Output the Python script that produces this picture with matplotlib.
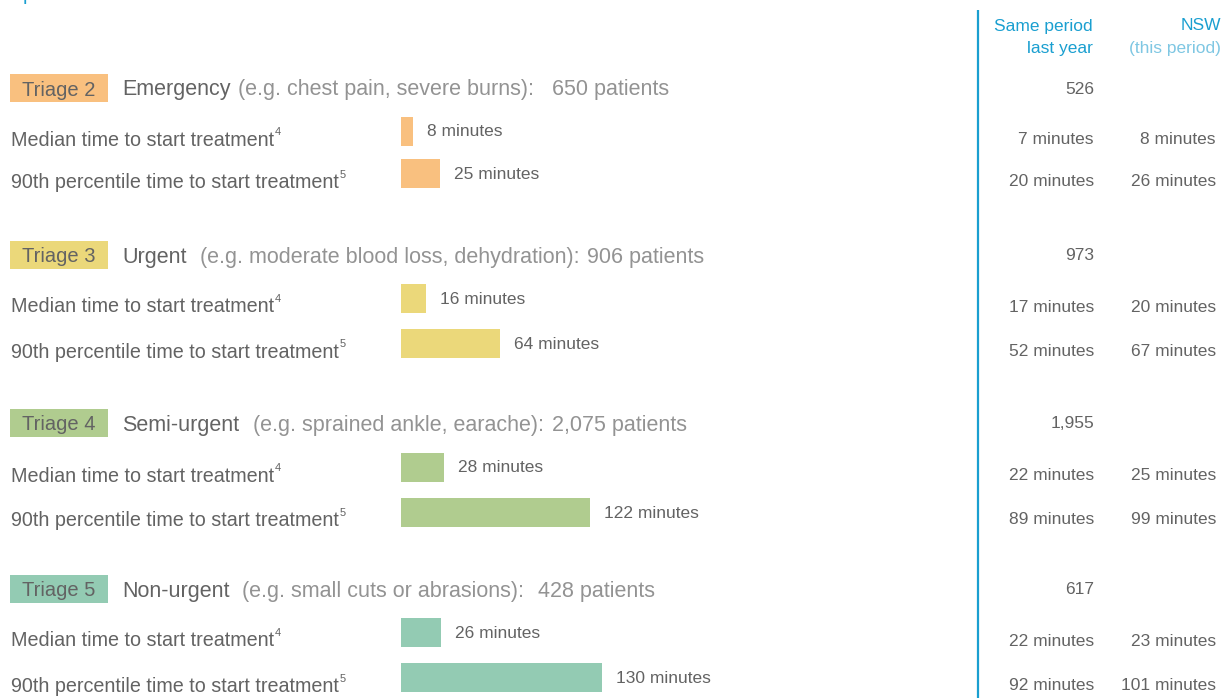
import matplotlib
matplotlib.use("Agg")
import matplotlib.pyplot as plt
from matplotlib.patches import Rectangle

# ---- data ----
triage_labels = ["Triage 2", "Triage 3", "Triage 4", "Triage 5"]
triage_names = ["Emergency", "Urgent", "Semi-urgent", "Non-urgent"]
triage_desc = ["(e.g. chest pain, severe burns):", "(e.g. moderate blood loss, dehydration):",
               "(e.g. sprained ankle, earache):", "(e.g. small cuts or abrasions):"]
patients = ["650 patients", "906 patients", "2,075 patients", "428 patients"]
patients_last_year = ["526", "973", "1,955", "617"]
median_minutes = [8, 16, 28, 26]
p90_minutes = [25, 64, 122, 130]
median_last_year = [7, 17, 22, 22]
p90_last_year = [20, 52, 89, 92]
median_nsw = [8, 20, 25, 23]
p90_nsw = [26, 67, 99, 101]
colors = ["#f9c07f", "#ebd87a", "#b0cc8f", "#93cbb3"]

W, H = 1224, 698
FONT = "Liberation Sans"
DARK = "#636363"
LIGHT = "#939393"
BLUE = "#1a9fd0"

# layout rows (pixel positions from top)
header_y = [90, 257, 425, 591]
med_text_y = [140, 307, 476, 641]
p90_text_y = [183, 352, 521, 687]
med_bar_y = [131, 298.5, 467, 632.5]
p90_bar_y = [173.5, 343.5, 512, 677.5]
name_gap = [7, 13, 14, 13]
pat_gap = [19, 8, 8, 14]

fig = plt.figure(figsize=(W / 100, H / 100), dpi=100)
ax = fig.add_axes([0, 0, 1, 1])
ax.set_xlim(0, W)
ax.set_ylim(H, 0)
ax.axis("off")

bx = fig.add_axes([401 / W, 0, 310 / W, 1])
bx.set_xlim(0, 200)
bx.set_ylim(H, 0)
bx.axis("off")
bx.patch.set_alpha(0)

renderer = fig.canvas.get_renderer()
inv = ax.transData.inverted()

def right_edge(t):
    bb = t.get_window_extent(renderer)
    return inv.transform((bb.x1, bb.y0))[0]

# title (cut off at top in the reference)
ax.text(10, 4, "April to June 2017", color=BLUE, fontsize=14, family=FONT, va="bottom", ha="left")

# divider line
ax.plot([978, 978], [10, H], color=BLUE, lw=1.6, solid_capstyle="butt")

# column headers
ax.text(1093, 26, "Same period", color=BLUE, fontsize=12.5, family=FONT, ha="right", va="center")
ax.text(1093, 49, "last year", color=BLUE, fontsize=12.5, family=FONT, ha="right", va="center")
ax.text(1221, 26, "NSW", color=BLUE, fontsize=12.5, family=FONT, ha="right", va="center")
ax.text(1221, 49, "(this period)", color="#7fc7e3", fontsize=12.5, family=FONT, ha="right", va="center")

for i in range(4):
    hy = header_y[i]
    ax.add_patch(Rectangle((10, hy - 16), 98, 28, color=colors[i], lw=0))
    ax.text(59, hy, triage_labels[i], color=DARK, fontsize=14.5, family=FONT, ha="center", va="center")
    t = ax.text(122, hy, triage_names[i], color=DARK, fontsize=15.5, family=FONT, ha="left", va="center")
    x1 = right_edge(t)
    t2 = ax.text(x1 + name_gap[i], hy, triage_desc[i], color=LIGHT,
                 fontsize=15.5, family=FONT, ha="left", va="center")
    x2 = right_edge(t2)
    ax.text(x2 + pat_gap[i], hy, patients[i], color=LIGHT,
            fontsize=15.5, family=FONT, ha="left", va="center")
    ax.text(1094, hy - 1, patients_last_year[i], color=DARK, fontsize=12.5, family=FONT, ha="right", va="center")

    my = med_text_y[i]
    py = p90_text_y[i]
    tm = ax.text(11, my, "Median time to start treatment", color=DARK, fontsize=14.2, family=FONT,
                 ha="left", va="center")
    ax.text(right_edge(tm) + 1, my - 8, "4", color=DARK, fontsize=8, family=FONT, ha="left", va="center")
    tp = ax.text(11, py, "90th percentile time to start treatment", color=DARK, fontsize=14.2, family=FONT,
                 ha="left", va="center")
    ax.text(right_edge(tp) + 1, py - 8, "5", color=DARK, fontsize=8, family=FONT, ha="left", va="center")

    bmy = med_bar_y[i]
    bpy = p90_bar_y[i]
    bx.barh(bmy, median_minutes[i], height=29, color=colors[i], lw=0)
    bx.barh(bpy, p90_minutes[i], height=29, color=colors[i], lw=0)
    bx.annotate(f"{median_minutes[i]} minutes", (median_minutes[i], bmy + 1), xytext=(10, 0),
                textcoords="offset points", color=DARK, fontsize=12.5, family=FONT, ha="left", va="center")
    bx.annotate(f"{p90_minutes[i]} minutes", (p90_minutes[i], bpy + 1), xytext=(10, 0),
                textcoords="offset points", color=DARK, fontsize=12.5, family=FONT, ha="left", va="center")

    ax.text(1094, my, f"{median_last_year[i]} minutes", color=DARK, fontsize=12.5, family=FONT, ha="right", va="center")
    ax.text(1094, py - 1, f"{p90_last_year[i]} minutes", color=DARK, fontsize=12.5, family=FONT, ha="right", va="center")
    ax.text(1216, my, f"{median_nsw[i]} minutes", color=DARK, fontsize=12.5, family=FONT, ha="right", va="center")
    ax.text(1216, py - 1, f"{p90_nsw[i]} minutes", color=DARK, fontsize=12.5, family=FONT, ha="right", va="center")

fig.savefig("out.png", dpi=100)
